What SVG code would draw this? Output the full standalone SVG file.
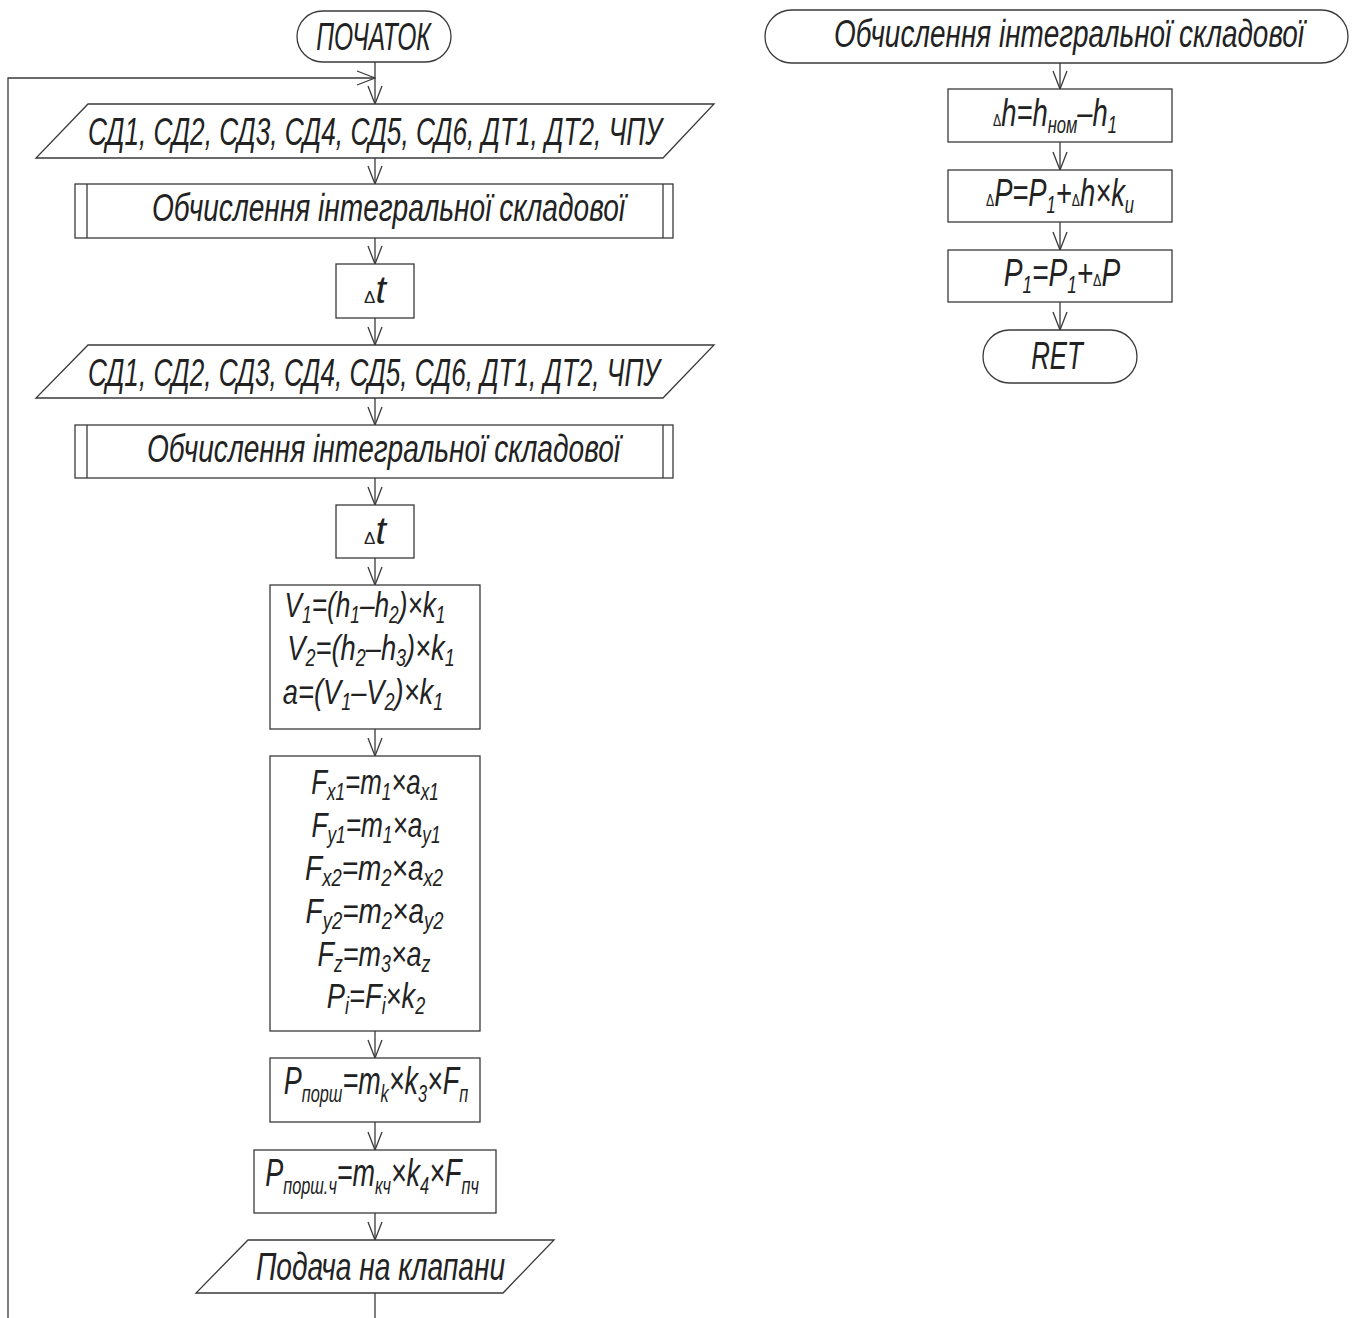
<svg xmlns="http://www.w3.org/2000/svg" width="1357" height="1318" viewBox="0 0 1357 1318">
<style>
.sh{fill:#fff;stroke:#3a3a3a;stroke-width:1.3}
.ln{fill:none;stroke:#3a3a3a;stroke-width:1.3}
.t{font-family:"Liberation Sans",Arial,sans-serif;font-style:italic;font-size:38px;fill:#222;text-anchor:middle}
.f{font-size:35px}
.s{font-size:23px}
.d{font-size:17px;font-style:normal}
</style>
<defs>
<marker id="arr" viewBox="0 0 20 16" refX="19" refY="8" markerWidth="20" markerHeight="16" markerUnits="userSpaceOnUse" orient="auto">
<path d="M1,1 L19,8 L1,15" fill="none" stroke="#3a3a3a" stroke-width="1.3"/>
</marker>
</defs>
<rect width="1357" height="1318" fill="#fff"/>

<g id="connectors" class="ln">
<path d="M375,62 V104" marker-end="url(#arr)"/>
<path d="M8,1318 V78 H375" marker-end="url(#arr)"/>
<path d="M375,158 V184" marker-end="url(#arr)"/>
<path d="M375,238 V264" marker-end="url(#arr)"/>
<path d="M375,318 V345" marker-end="url(#arr)"/>
<path d="M375,398 V425" marker-end="url(#arr)"/>
<path d="M375,478 V505" marker-end="url(#arr)"/>
<path d="M375,558 V585" marker-end="url(#arr)"/>
<path d="M375,729 V756" marker-end="url(#arr)"/>
<path d="M375,1031 V1058" marker-end="url(#arr)"/>
<path d="M375,1122 V1150" marker-end="url(#arr)"/>
<path d="M375,1213 V1240" marker-end="url(#arr)"/>
<path d="M375,1293 V1318"/>
<path d="M1060,63 V89" marker-end="url(#arr)"/>
<path d="M1060,142 V170" marker-end="url(#arr)"/>
<path d="M1060,222 V250" marker-end="url(#arr)"/>
<path d="M1060,302 V330" marker-end="url(#arr)"/>
</g>

<g id="start">
<rect class="sh" x="297" y="11" width="154" height="51" rx="25.5"/>
<text class="t" transform="translate(373.5,50) scale(0.62,1)" textLength="185" lengthAdjust="spacingAndGlyphs">ПОЧАТОК</text>
</g>

<g id="input1">
<path class="sh" d="M88,104 H714 L663,158 H36 Z"/>
<text class="t" font-size="40" transform="translate(375,145) scale(0.65,1)" textLength="883" lengthAdjust="spacingAndGlyphs">СД1, СД2, СД3, СД4, СД5, СД6, ДТ1, ДТ2, ЧПУ</text>
</g>

<g id="sub1">
<rect class="sh" x="75" y="184" width="598" height="54"/>
<path class="ln" d="M87,184 V238 M663,184 V238"/>
<text class="t" transform="translate(388.5,221) scale(0.73,1)" textLength="648" lengthAdjust="spacingAndGlyphs">Обчислення інтегральної складової</text>
</g>

<g id="dt1">
<rect class="sh" x="336" y="264" width="78" height="54"/>
<text class="t" x="375" y="303"><tspan class="d">Δ</tspan>t</text>
</g>

<g id="input2">
<path class="sh" d="M88,345 H714 L663,398 H36 Z"/>
<text class="t" font-size="40" transform="translate(374,386) scale(0.65,1)" textLength="880" lengthAdjust="spacingAndGlyphs">СД1, СД2, СД3, СД4, СД5, СД6, ДТ1, ДТ2, ЧПУ</text>
</g>

<g id="sub2">
<rect class="sh" x="75" y="425" width="598" height="53"/>
<path class="ln" d="M87,425 V478 M663,425 V478"/>
<text class="t" transform="translate(383.5,462) scale(0.73,1)" textLength="648" lengthAdjust="spacingAndGlyphs">Обчислення інтегральної складової</text>
</g>

<g id="dt2">
<rect class="sh" x="336" y="505" width="78" height="53"/>
<text class="t" x="375" y="544"><tspan class="d">Δ</tspan>t</text>
</g>

<g id="velocity">
<rect class="sh" x="270" y="585" width="210" height="144"/>
<text class="t f" transform="translate(365,617) scale(0.75,1)">V<tspan class="s" dy="6">1</tspan><tspan dy="-6">=(h</tspan><tspan class="s" dy="6">1</tspan><tspan dy="-6">–h</tspan><tspan class="s" dy="6">2</tspan><tspan dy="-6">)×k</tspan><tspan class="s" dy="6">1</tspan></text>
<text class="t f" transform="translate(371,660) scale(0.78,1)">V<tspan class="s" dy="6">2</tspan><tspan dy="-6">=(h</tspan><tspan class="s" dy="6">2</tspan><tspan dy="-6">–h</tspan><tspan class="s" dy="6">3</tspan><tspan dy="-6">)×k</tspan><tspan class="s" dy="6">1</tspan></text>
<text class="t f" transform="translate(363,704) scale(0.78,1)">a=(V<tspan class="s" dy="6">1</tspan><tspan dy="-6">–V</tspan><tspan class="s" dy="6">2</tspan><tspan dy="-6">)×k</tspan><tspan class="s" dy="6">1</tspan></text>
</g>

<g id="forces">
<rect class="sh" x="270" y="756" width="210" height="275"/>
<text class="t f" transform="translate(375,794) scale(0.74,1)">F<tspan class="s" dy="6">x1</tspan><tspan dy="-6">=m</tspan><tspan class="s" dy="6">1</tspan><tspan dy="-6">×a</tspan><tspan class="s" dy="6">x1</tspan></text>
<text class="t f" transform="translate(376,837) scale(0.75,1)">F<tspan class="s" dy="6">y1</tspan><tspan dy="-6">=m</tspan><tspan class="s" dy="6">1</tspan><tspan dy="-6">×a</tspan><tspan class="s" dy="6">y1</tspan></text>
<text class="t f" transform="translate(374,880) scale(0.8,1)">F<tspan class="s" dy="6">x2</tspan><tspan dy="-6">=m</tspan><tspan class="s" dy="6">2</tspan><tspan dy="-6">×a</tspan><tspan class="s" dy="6">x2</tspan></text>
<text class="t f" transform="translate(374.5,923) scale(0.8,1)">F<tspan class="s" dy="6">y2</tspan><tspan dy="-6">=m</tspan><tspan class="s" dy="6">2</tspan><tspan dy="-6">×a</tspan><tspan class="s" dy="6">y2</tspan></text>
<text class="t f" transform="translate(374,966) scale(0.77,1)">F<tspan class="s" dy="6">z</tspan><tspan dy="-6">=m</tspan><tspan class="s" dy="6">3</tspan><tspan dy="-6">×a</tspan><tspan class="s" dy="6">z</tspan></text>
<text class="t f" transform="translate(376,1008) scale(0.78,1)">P<tspan class="s" dy="6">i</tspan><tspan dy="-6">=F</tspan><tspan class="s" dy="6">i</tspan><tspan dy="-6">×k</tspan><tspan class="s" dy="6">2</tspan></text>
</g>

<g id="piston">
<rect class="sh" x="270" y="1058" width="210" height="64"/>
<text class="t" transform="translate(376,1094) scale(0.71,1)">P<tspan class="s" dy="8">порш</tspan><tspan dy="-8">=m</tspan><tspan class="s" dy="8">k</tspan><tspan dy="-8">×k</tspan><tspan class="s" dy="8">3</tspan><tspan dy="-8">×F</tspan><tspan class="s" dy="8">п</tspan></text>
</g>

<g id="piston2">
<rect class="sh" x="254" y="1150" width="242" height="63"/>
<text class="t" transform="translate(372,1186) scale(0.71,1)">P<tspan class="s" dy="8">порш.ч</tspan><tspan dy="-8">=m</tspan><tspan class="s" dy="8">кч</tspan><tspan dy="-8">×k</tspan><tspan class="s" dy="8">4</tspan><tspan dy="-8">×F</tspan><tspan class="s" dy="8">пч</tspan></text>
</g>

<g id="output">
<path class="sh" d="M248,1240 H554 L503,1293 H196 Z"/>
<text class="t" transform="translate(380.5,1280) scale(0.7,1)" textLength="356" lengthAdjust="spacingAndGlyphs">Подача на клапани</text>
</g>

<g id="sub_start">
<rect class="sh" x="765" y="10" width="583" height="53" rx="26.5"/>
<text class="t" transform="translate(1069,47) scale(0.73,1)" textLength="644" lengthAdjust="spacingAndGlyphs">Обчислення інтегральної складової</text>
</g>

<g id="dh">
<rect class="sh" x="948" y="89" width="224" height="53"/>
<text class="t" transform="translate(1055,126) scale(0.72,1)"><tspan class="d">Δ</tspan>h=h<tspan class="s" dy="7">ном</tspan><tspan dy="-7">–h</tspan><tspan class="s" dy="7">1</tspan></text>
</g>

<g id="dp">
<rect class="sh" x="948" y="170" width="224" height="52"/>
<text class="t" transform="translate(1060,206) scale(0.72,1)"><tspan class="d">Δ</tspan>P=P<tspan class="s" dy="7">1</tspan><tspan dy="-7">+</tspan><tspan class="d">Δ</tspan>h×k<tspan class="s" dy="7">u</tspan></text>
</g>

<g id="p1">
<rect class="sh" x="948" y="250" width="224" height="52"/>
<text class="t" transform="translate(1062,286) scale(0.74,1)">P<tspan class="s" dy="7">1</tspan><tspan dy="-7">=P</tspan><tspan class="s" dy="7">1</tspan><tspan dy="-7">+</tspan><tspan class="d">Δ</tspan>P</text>
</g>

<g id="ret">
<rect class="sh" x="983" y="330" width="154" height="53" rx="26.5"/>
<text class="t" transform="translate(1057,369) scale(0.68,1)">RET</text>
</g>
</svg>
